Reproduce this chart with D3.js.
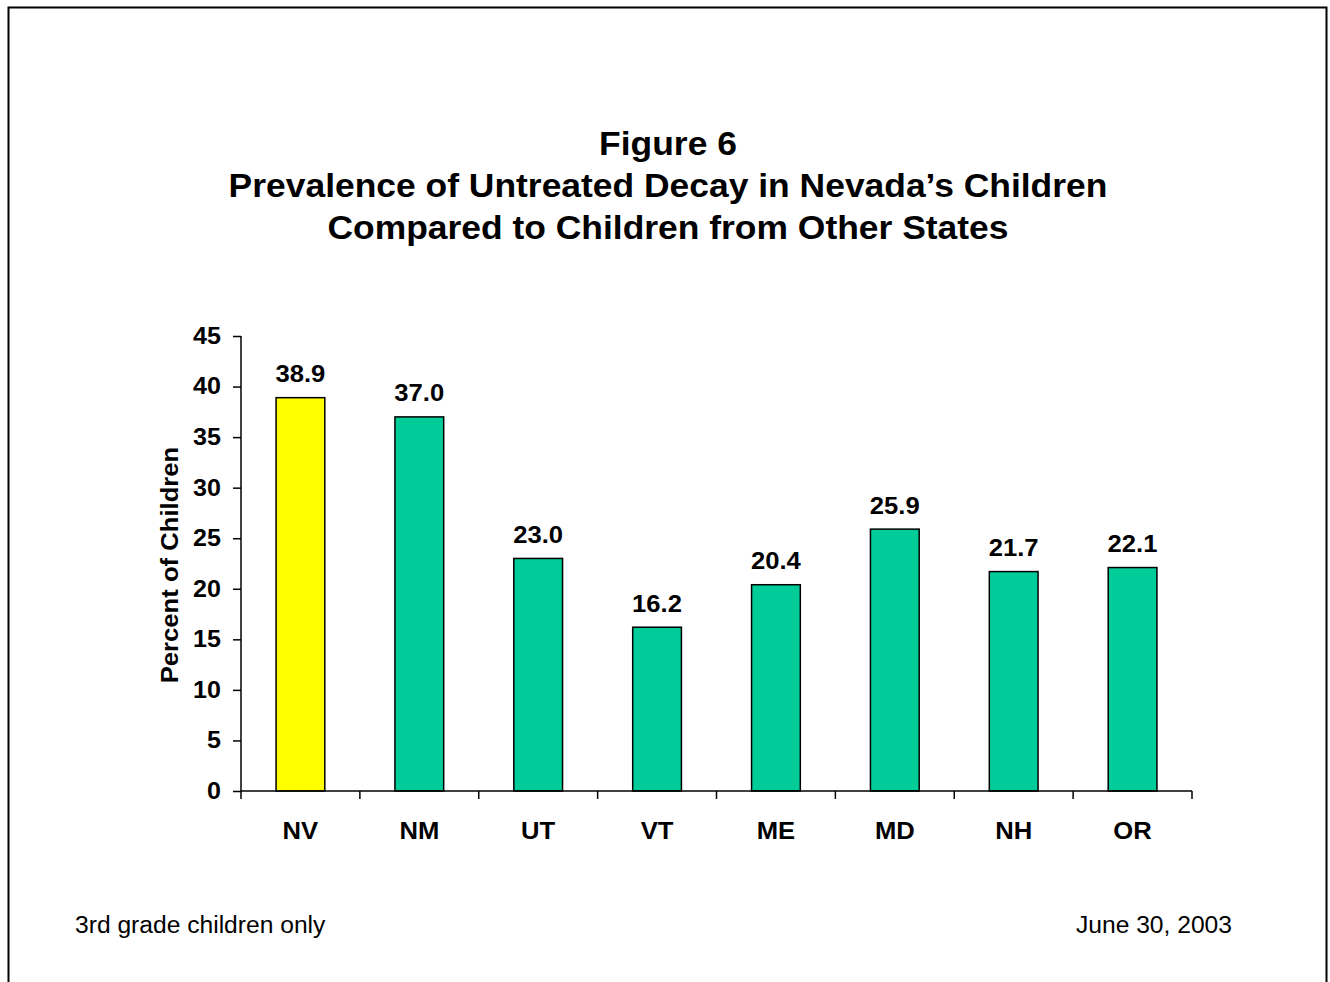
<!DOCTYPE html>
<html><head><meta charset="utf-8">
<script src="https://cdn.jsdelivr.net/npm/d3@7"></script>
<style>body{margin:0;background:#fff}svg{display:block}</style>
</head><body>
<svg id="c" width="1330" height="982"></svg>
<script>
const categories = ["NV","NM","UT","VT","ME","MD","NH","OR"];
const values = [38.9, 37.0, 23.0, 16.2, 20.4, 25.9, 21.7, 22.1];
const yTicks = [0,5,10,15,20,25,30,35,40,45];
const titleLines = ["Figure 6","Prevalence of Untreated Decay in Nevada\u2019s Children","Compared to Children from Other States"];
const colors = ["#FFFF00","#00CC99","#00CC99","#00CC99","#00CC99","#00CC99","#00CC99","#00CC99"];

const svg = d3.select("#c");
const font = "'Liberation Sans', Arial, sans-serif";
function stretch(sel, k){
  sel.each(function(){ const l=this.getComputedTextLength(); d3.select(this).attr("textLength", l*k).attr("lengthAdjust","spacingAndGlyphs"); });
}
svg.append("rect").attr("x",8.5).attr("y",7.5).attr("width",1318).attr("height",1000)
  .attr("fill","#fff").attr("stroke","#000").attr("stroke-width",2);

const L=241, R=1192, T=336, B=791;
const x = d3.scaleBand().domain(categories).range([L,R]).paddingInner(0.59).paddingOuter(0.295);
const y = d3.scaleLinear().domain([0,45]).range([B,T]);

svg.selectAll(".t").data(titleLines).enter().append("text")
  .attr("x",668).attr("y",(d,i)=>155+i*42).attr("text-anchor","middle")
  .attr("font-family",font).attr("font-weight","bold").attr("font-size",32.5).text(d=>d)
  .call(stretch,1.09);

svg.selectAll(".bar").data(values).enter().append("rect")
  .attr("x",(d,i)=>x(categories[i])).attr("width",x.bandwidth())
  .attr("y",d=>y(d)).attr("height",d=>B-y(d))
  .attr("fill",(d,i)=>colors[i]).attr("stroke","#000").attr("stroke-width",1.5);

svg.selectAll(".val").data(values).enter().append("text")
  .attr("x",(d,i)=>x(categories[i])+x.bandwidth()/2).attr("y",d=>y(d)-15.5)
  .attr("text-anchor","middle").attr("font-family",font).attr("font-weight","bold")
  .attr("font-size",23.5).text(d=>d.toFixed(1)).call(stretch,1.09);

const yAxis = svg.append("g").attr("transform",`translate(${L},0)`)
  .call(d3.axisLeft(y).tickValues(yTicks).tickSize(8).tickPadding(12).tickFormat(d3.format("d")));
yAxis.select(".domain").attr("stroke","#000").attr("stroke-width",1.5).attr("d",`M0,${T}V${B}`);
yAxis.selectAll(".tick line").attr("stroke","#000").attr("stroke-width",1.5);
yAxis.selectAll("text").attr("font-family",font).attr("font-weight","bold").attr("font-size",23).attr("fill","#000")
  .call(stretch,1.09);

const xb = d3.scalePoint().domain(d3.range(categories.length+1)).range([L,R]);
const xAxis = svg.append("g").attr("transform",`translate(0,${B})`);
xAxis.append("path").attr("d",`M${L},0H${R}`).attr("stroke","#000").attr("stroke-width",1.5);
xAxis.selectAll(".xt").data(xb.domain()).enter().append("line")
  .attr("x1",d=>xb(d)).attr("x2",d=>xb(d)).attr("y1",0).attr("y2",8)
  .attr("stroke","#000").attr("stroke-width",1.5);
xAxis.selectAll(".xl").data(categories).enter().append("text")
  .attr("x",d=>x(d)+x.bandwidth()/2).attr("y",48).attr("text-anchor","middle")
  .attr("font-family",font).attr("font-weight","bold").attr("font-size",23.5).text(d=>d)
  .call(stretch,1.09);

svg.append("text").attr("transform","translate(178,565) rotate(-90)").attr("text-anchor","middle")
  .attr("font-family",font).attr("font-weight","bold").attr("font-size",23).text("Percent of Children")
  .call(stretch,1.115);

svg.append("text").attr("x",75).attr("y",933).attr("font-family",font).attr("font-size",23).text("3rd grade children only").call(stretch,1.07);
svg.append("text").attr("x",1232).attr("y",933).attr("text-anchor","end").attr("font-family",font).attr("font-size",23).text("June 30, 2003").call(stretch,1.07);
</script>
</body></html>
